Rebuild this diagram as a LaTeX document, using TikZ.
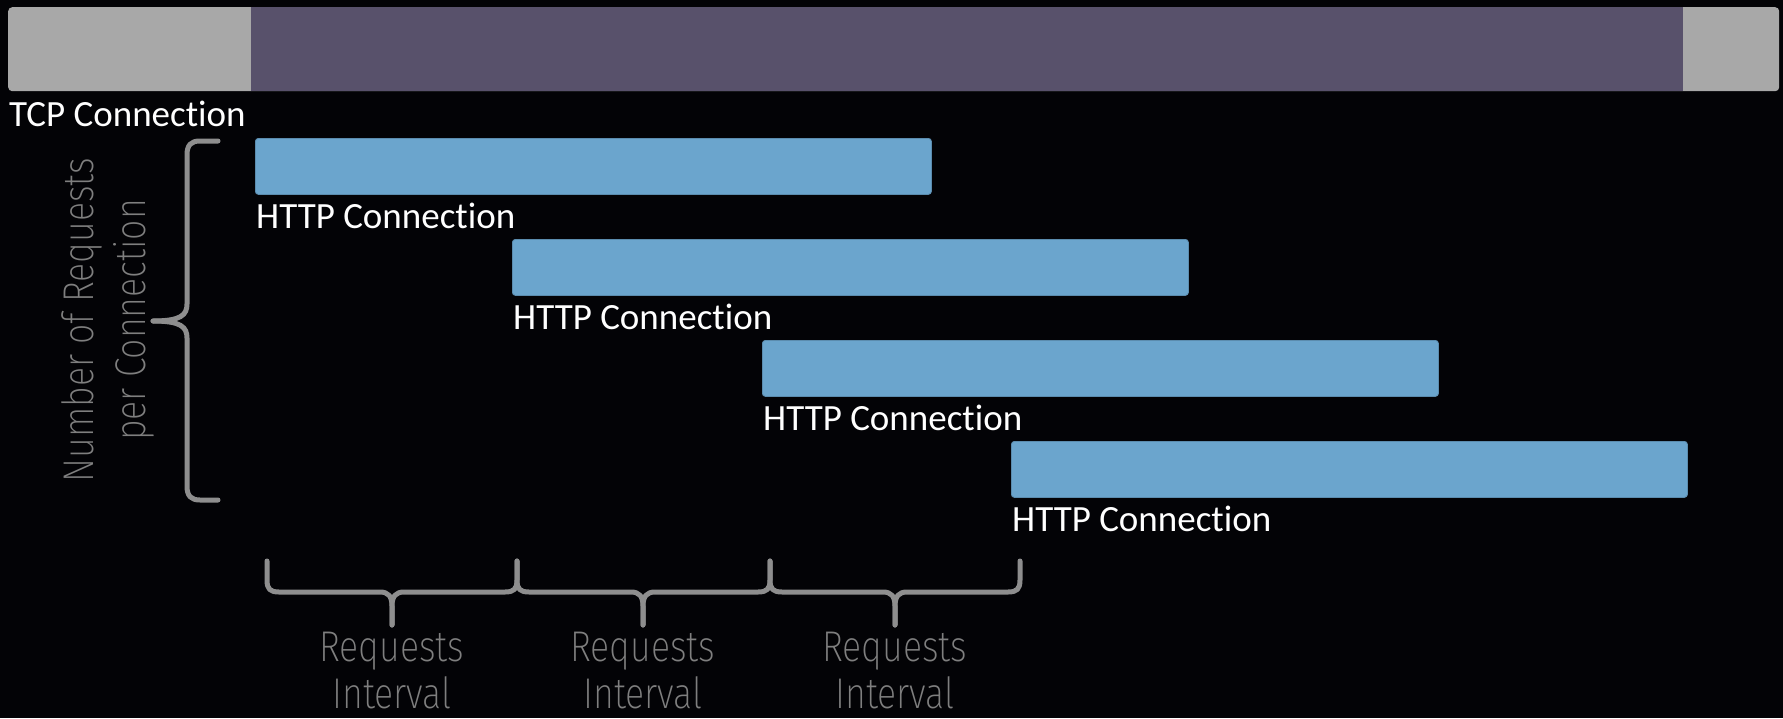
\documentclass[tikz,border=0pt]{standalone}
\usepackage{fontspec}
\setmainfont{Carlito}[Ligatures=NoCommon]
\newfontfamily\thinfont{Fira Sans ExtraLight}[FakeStretch=0.83]
\definecolor{bgc}{HTML}{030306}
\definecolor{tcpgrey}{HTML}{A8A8A8}
\definecolor{tcppurple}{HTML}{58516B}
\definecolor{httpblue}{HTML}{6BA5CD}
\definecolor{txtgrey}{HTML}{7F7F7F}
\definecolor{brcgrey}{HTML}{8E8E8E}
\tikzset{
  bar/.style={fill=httpblue, draw=httpblue!85!black, line width=0.8pt, rounded corners=3pt, minimum width=676pt, minimum height=56pt, inner sep=0pt, anchor=north west},
  lbl/.style={text=white, font=\fontsize{37}{44}\selectfont, inner sep=0pt, anchor=base west},
  thintxt/.style={text=txtgrey, font=\thinfont\fontsize{43}{50}\selectfont, inner sep=0pt, anchor=base},
  brc/.style={draw=brcgrey, line width=5pt, line cap=round, line join=round}
}
\begin{document}
\begin{tikzpicture}[x=1pt, y=-1pt]
\fill[bgc] (0,0) rectangle (1783,718);
\useasboundingbox (0,0) rectangle (1783,718);
% TCP connection bar
\node[fill=tcpgrey, rounded corners=4pt, minimum width=1771pt, minimum height=84pt, inner sep=0pt, anchor=north west] (tcp) at (8,7) {};
\node[fill=tcppurple, minimum width=1432pt, minimum height=84pt, inner sep=0pt, anchor=north west] (tcpmid) at (251,7) {};
\node[lbl] (tcplbl) at (9,126) {TCP Connection};
% HTTP connections
\node[bar] (h1) at (255,138) {};
\node[bar] (h2) at (512,239) {};
\node[bar] (h3) at (762,340) {};
\node[bar] (h4) at (1011,441) {};
\node[lbl] (l1) at ([xshift=1pt,yshift=-34pt]h1.south west) {HTTP Connection};
\node[lbl] (l2) at ([xshift=1pt,yshift=-34pt]h2.south west) {HTTP Connection};
\node[lbl] (l3) at ([xshift=1pt,yshift=-34pt]h3.south west) {HTTP Connection};
\node[lbl] (l4) at ([xshift=1pt,yshift=-34pt]h4.south west) {HTTP Connection};
% left brace
\draw[brc] (218,141) -- (200,141) .. controls (191,141) and (187,145) .. (187,155) -- (187,304) .. controls (187,315) and (181,321) .. (153,321);
\draw[brc] (218,500) -- (200,500) .. controls (191,500) and (187,496) .. (187,486) -- (187,338) .. controls (187,327) and (181,321) .. (153,321);
\node[thintxt, rotate=90] (n1) at (93,320) {Number of Requests};
\node[thintxt, rotate=90] (n2) at (145,320) {per Connection};
% bottom braces
\foreach \xa/\xm/\xb/\i in {267/392/517/1, 517/643/770/2, 770/895/1020/3} {
  \draw[brc] (\xa,561) -- (\xa,580) .. controls (\xa,589) and (\xa+3,592) .. (\xa+12,592) -- (\xm-12,592) .. controls (\xm-4,592) and (\xm,596) .. (\xm,606) -- (\xm,625);
  \draw[brc] (\xb,561) -- (\xb,580) .. controls (\xb,589) and (\xb-3,592) .. (\xb-12,592) -- (\xm+12,592) .. controls (\xm+4,592) and (\xm,596) .. (\xm,606) -- (\xm,625);
  \node[thintxt] (r\i) at (\xm,661) {Requests};
  \node[thintxt] (iv\i) at (\xm,708) {Interval};
}
\end{tikzpicture}
\end{document}
